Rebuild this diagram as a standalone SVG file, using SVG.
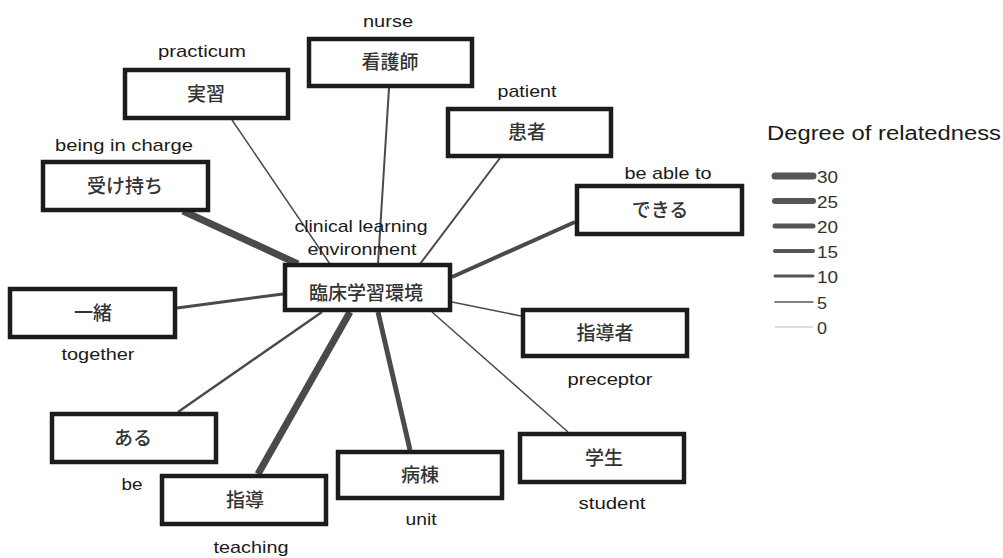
<svg xmlns="http://www.w3.org/2000/svg" width="1003" height="558" viewBox="0 0 1003 558">
<style>
.box{fill:#fff;stroke:#1c1c1c;stroke-width:4.5}
.jp{font-family:"Noto Sans CJK JP","Noto Sans CJK SC",sans-serif;font-size:19px;fill:#333;text-anchor:middle;font-weight:500}
.en{font-family:"Liberation Sans",Arial,sans-serif;font-size:17px;fill:#1a1a1a;text-anchor:middle}
.lg{font-family:"Liberation Sans",Arial,sans-serif;font-size:17px;fill:#333}
.e{stroke:#4a4a4a;stroke-linecap:butt;fill:none}
.l{stroke:#555;stroke-linecap:round}
</style>
<rect width="1003" height="558" fill="#fff"/>
<g id="connectors">
<line class="e" x1="232" y1="120" x2="330" y2="264" stroke-width="1.5"/>
<line class="e" x1="389" y1="88" x2="378" y2="264" stroke-width="2"/>
<line class="e" x1="500" y1="158" x2="420" y2="264" stroke-width="2"/>
<line class="e" x1="183" y1="211" x2="298" y2="264" stroke-width="7"/>
<line class="e" x1="575" y1="222" x2="452" y2="277" stroke-width="4"/>
<line class="e" x1="177" y1="308" x2="283" y2="294" stroke-width="3"/>
<line class="e" x1="521" y1="316" x2="452" y2="302" stroke-width="1.5"/>
<line class="e" x1="178" y1="412" x2="322" y2="312" stroke-width="2.5"/>
<line class="e" x1="258" y1="474" x2="350" y2="312" stroke-width="7"/>
<line class="e" x1="410" y1="450" x2="378" y2="312" stroke-width="5"/>
<line class="e" x1="568" y1="432" x2="432" y2="312" stroke-width="1.5"/>
</g>
<g id="center">
<text class="en" x="361" y="232" textLength="133" lengthAdjust="spacingAndGlyphs">clinical learning</text>
<text class="en" x="362" y="255" textLength="109" lengthAdjust="spacingAndGlyphs">environment</text>
<rect class="box" x="285" y="265" width="165" height="45"/>
<text class="jp" x="366" y="300">臨床学習環境</text>
</g>
<g id="n-jisshu">
<text class="en" x="202" y="57" textLength="88" lengthAdjust="spacingAndGlyphs">practicum</text>
<rect class="box" x="125" y="70" width="163" height="48"/>
<text class="jp" x="206" y="101">実習</text>
</g>
<g id="n-kangoshi">
<text class="en" x="388" y="27" textLength="50" lengthAdjust="spacingAndGlyphs">nurse</text>
<rect class="box" x="309" y="39" width="163" height="47"/>
<text class="jp" x="390" y="69">看護師</text>
</g>
<g id="n-kanja">
<text class="en" x="527" y="97" textLength="59" lengthAdjust="spacingAndGlyphs">patient</text>
<rect class="box" x="448" y="109" width="163" height="47"/>
<text class="jp" x="527" y="139">患者</text>
</g>
<g id="n-ukemochi">
<text class="en" x="124" y="151" textLength="138" lengthAdjust="spacingAndGlyphs">being in charge</text>
<rect class="box" x="43" y="162" width="165" height="48"/>
<text class="jp" x="125" y="193">受け持ち</text>
</g>
<g id="n-dekiru">
<text class="en" x="668" y="179" textLength="87" lengthAdjust="spacingAndGlyphs">be able to</text>
<rect class="box" x="577" y="186" width="165" height="48"/>
<text class="jp" x="660" y="217">できる</text>
</g>
<g id="n-issho">
<rect class="box" x="10" y="289" width="165" height="48"/>
<text class="jp" x="93" y="320">一緒</text>
<text class="en" x="98" y="360" textLength="73" lengthAdjust="spacingAndGlyphs">together</text>
</g>
<g id="n-shidosha">
<rect class="box" x="523" y="310" width="164" height="46"/>
<text class="jp" x="605" y="340">指導者</text>
<text class="en" x="610" y="385" textLength="85" lengthAdjust="spacingAndGlyphs">preceptor</text>
</g>
<g id="n-aru">
<rect class="box" x="52" y="414" width="164" height="48"/>
<text class="jp" x="133" y="445">ある</text>
<text class="en" x="132" y="490" textLength="21" lengthAdjust="spacingAndGlyphs">be</text>
</g>
<g id="n-shido">
<rect class="box" x="162" y="476" width="164" height="48"/>
<text class="jp" x="245" y="507">指導</text>
<text class="en" x="251" y="553" textLength="75" lengthAdjust="spacingAndGlyphs">teaching</text>
</g>
<g id="n-byoto">
<rect class="box" x="338" y="452" width="164" height="46"/>
<text class="jp" x="420" y="482">病棟</text>
<text class="en" x="421" y="525" textLength="31" lengthAdjust="spacingAndGlyphs">unit</text>
</g>
<g id="n-gakusei">
<rect class="box" x="520" y="434" width="164" height="48"/>
<text class="jp" x="604" y="465">学生</text>
<text class="en" x="612" y="509" textLength="67" lengthAdjust="spacingAndGlyphs">student</text>
</g>
<g id="legend">
<text x="767" y="140" font-family="'Liberation Sans',Arial,sans-serif" font-size="20" fill="#1a1a1a" textLength="234" lengthAdjust="spacingAndGlyphs">Degree  of relatedness</text>
<line class="l" x1="775" y1="176" x2="813" y2="176" stroke-width="7"/>
<line class="l" x1="775" y1="201" x2="813" y2="201" stroke-width="6"/>
<line class="l" x1="775" y1="226" x2="813" y2="226" stroke-width="5"/>
<line class="l" x1="775" y1="251" x2="813" y2="251" stroke-width="4"/>
<line class="l" x1="775" y1="276" x2="813" y2="276" stroke-width="3"/>
<line class="l" x1="775" y1="302" x2="813" y2="302" stroke-width="1.6"/>
<line x1="775" y1="327" x2="813" y2="327" stroke="#bbb" stroke-width="1"/>
<text class="lg" x="817" y="183" textLength="21" lengthAdjust="spacingAndGlyphs">30</text>
<text class="lg" x="817" y="208" textLength="21" lengthAdjust="spacingAndGlyphs">25</text>
<text class="lg" x="817" y="233" textLength="21" lengthAdjust="spacingAndGlyphs">20</text>
<text class="lg" x="817" y="258" textLength="21" lengthAdjust="spacingAndGlyphs">15</text>
<text class="lg" x="817" y="283" textLength="21" lengthAdjust="spacingAndGlyphs">10</text>
<text class="lg" x="817" y="309" textLength="10" lengthAdjust="spacingAndGlyphs">5</text>
<text class="lg" x="817" y="334" textLength="10" lengthAdjust="spacingAndGlyphs">0</text>
</g>
</svg>
